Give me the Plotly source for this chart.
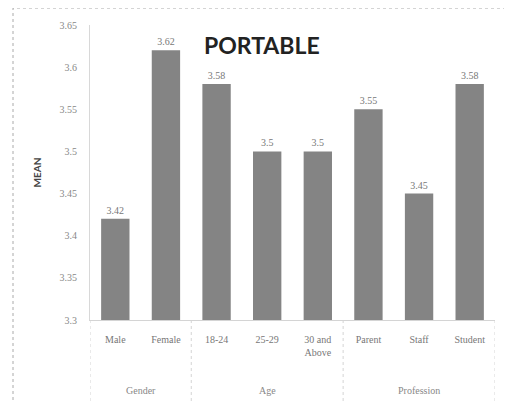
import plotly.graph_objs as go

groups = ['Gender', 'Age', 'Profession']
group_span = [(0, 1), (2, 4), (5, 7)]
labels = ['Male', 'Female', '18-24', '25-29', '30 and<br>Above', 'Parent', 'Staff', 'Student']
means = [3.42, 3.62, 3.58, 3.5, 3.5, 3.55, 3.45, 3.58]
value_text = ['3.42', '3.62', '3.58', '3.5', '3.5', '3.55', '3.45', '3.58']

# page body has an 8px margin, so the figure is drawn 8px smaller and shifted
OFF = 8
W, H = 512 - OFF, 402 - OFF
L, R, T, B = 90 - OFF, 17, 25 - OFF, 82
pw, ph = W - L - R, H - T - B


def px(x):  # reference pixel x -> paper
    return (x - OFF - L) / pw


def py(y):  # reference pixel y -> paper
    return (H - B - (y - OFF)) / ph


trace = go.Bar(x=list(range(len(labels))), y=means, text=value_text, textposition='outside',
               textfont=dict(size=10, color='#777777', family='Liberation Serif'),
               marker=dict(color='#848484', line=dict(width=0)), width=0.56, cliponaxis=False)

layout = go.Layout(
    width=W, height=H,
    margin=dict(l=L, r=R, t=T, b=B),
    paper_bgcolor='white', plot_bgcolor='white',
    showlegend=False,
    font=dict(family='Liberation Serif', size=10, color='#777777'),
    xaxis=dict(tickmode='array', tickvals=list(range(len(labels))), ticktext=labels,
               range=[-0.5, len(labels) - 0.5], showgrid=False, zeroline=False,
               showline=True, linecolor='#d4d4d4', ticks='', automargin=False,
               ticklabelstandoff=10, tickfont=dict(size=10, color='#777777')),
    yaxis=dict(range=[3.3, 3.65], dtick=0.05, showgrid=False, zeroline=False, showline=True,
               linecolor='#d8d8d8', ticks='', ticklabelstandoff=10, automargin=False,
               tickfont=dict(size=10, color='#888888'),
               title=dict(text='<b>MEAN</b>', font=dict(size=10, color='#444444', family='Lato'), standoff=16)),
)

fig = go.Figure(data=[trace], layout=layout)

# group labels and dividers below the axis
for name, (a, b) in zip(groups, group_span):
    fig.add_annotation(text=name, xref='x', yref='paper', x=(a + b) / 2, y=py(390),
                       showarrow=False, yanchor='middle', font=dict(size=10, color='#888888'))
for xv in [-0.5, 1.5, 4.5, 7.5]:
    fig.add_shape(type='line', xref='x', yref='paper', x0=xv, x1=xv, y0=0, y1=py(402),
                  line=dict(color='#d4d4d4', width=1, dash='dot'))

# title inside plot
fig.add_annotation(text='<b>PORTABLE</b>', xref='paper', yref='paper', x=px(262), y=py(45),
                   showarrow=False, font=dict(size=23, color='#222222', family='Lato'),
                   xanchor='center', yanchor='middle')

# outer dashed border (bottom edge falls outside the page)
fig.add_shape(type='rect', xref='paper', yref='paper',
              x0=px(13), x1=px(508), y0=py(405), y1=py(8),
              line=dict(color='#aaaaaa', width=1, dash='dot'))

fig.write_html('out.html')
